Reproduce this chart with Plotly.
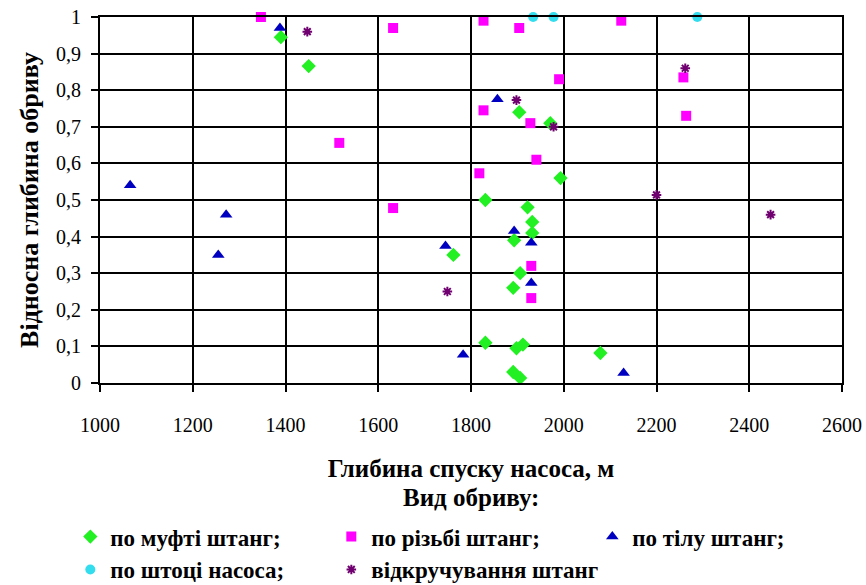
import plotly.graph_objects as go

# ---- data ----
coupling_x = [1390, 1450, 1904, 1971, 1993, 1831, 1922, 1932, 1932, 1893, 1762,
              1906, 1891, 1831, 1898, 1912, 1891, 1906, 2079]
coupling_y = [0.945, 0.866, 0.74, 0.71, 0.56, 0.50, 0.48, 0.44, 0.41, 0.39, 0.35,
              0.30, 0.26, 0.11, 0.095, 0.105, 0.03, 0.014, 0.082]

thread_x = [1347, 1632, 1516, 1632, 1827, 1904, 1990, 1827, 1928, 2124, 2258,
            2264, 1941, 1818, 1930, 1930]
thread_y = [1.0, 0.97, 0.656, 0.478, 0.99, 0.97, 0.83, 0.745, 0.71, 0.99, 0.835,
            0.73, 0.61, 0.573, 0.32, 0.232]

body_x = [1388, 1065, 1272, 1255, 1745, 1893, 1930, 1857, 1930, 1783, 2129]
body_y = [0.97, 0.54, 0.46, 0.35, 0.374, 0.415, 0.383, 0.775, 0.273, 0.077, 0.027]

rod_x = [1934, 1978, 2288]
rod_y = [1.0, 1.0, 1.0]

unscrew_x = [1447, 1898, 1978, 2262, 2200, 2446, 1749]
unscrew_y = [0.96, 0.773, 0.70, 0.86, 0.514, 0.46, 0.25]

series_names = ["по муфті штанг;", "по різьбі штанг;", "по тілу штанг;",
                "по штоці насоса;", "відкручування штанг"]

x_title = "Глибина спуску насоса, м"
y_title = "Відносна глибина обриву"
legend_title = "Вид обриву:"

FONT = "Liberation Serif, Times New Roman, DejaVu Serif, serif"

fig = go.Figure()
fig.add_trace(go.Scatter(x=coupling_x, y=coupling_y, mode="markers", name=series_names[0],
                         cliponaxis=False,
                         marker=dict(symbol="diamond", size=11, color="#22F022")))
fig.add_trace(go.Scatter(x=thread_x, y=thread_y, mode="markers", name=series_names[1],
                         cliponaxis=False,
                         marker=dict(symbol="square", size=10, color="#FF00FF")))
fig.add_trace(go.Scatter(x=body_x, y=body_y, mode="markers", name=series_names[2],
                         cliponaxis=False,
                         marker=dict(symbol="triangle-up", size=11, color="#0000C0")))
fig.add_trace(go.Scatter(x=rod_x, y=rod_y, mode="markers", name=series_names[3],
                         cliponaxis=False,
                         marker=dict(symbol="circle", size=10, color="#33DDEE")))
fig.add_trace(go.Scatter(x=unscrew_x, y=unscrew_y, mode="markers", name=series_names[4],
                         cliponaxis=False,
                         marker=dict(symbol="asterisk-open", size=8,
                                     line=dict(color="#700070", width=2), color="#700070")))

axis_common = dict(
    showgrid=True, gridcolor="black", gridwidth=2,
    showline=True, linecolor="black", linewidth=2, mirror=True,
    ticks="outside", ticklen=7, tickwidth=2, tickcolor="black",
    zeroline=False,
    tickfont=dict(family=FONT, size=20, color="black"),
)

fig.update_xaxes(range=[1000, 2600], dtick=200, tick0=1000,
                 ticklabelstandoff=16,
                 title=dict(text=x_title, standoff=24,
                            font=dict(family=FONT, size=25, color="black", weight="bold")),
                 **axis_common)
fig.update_yaxes(range=[0, 1], dtick=0.1, tick0=0,
                 ticklabelstandoff=6,
                 title=dict(text=y_title, standoff=10,
                            font=dict(family=FONT, size=26, color="black", weight="bold")),
                 **axis_common)

fig.update_layout(
    width=866, height=585,
    margin=dict(l=100, r=24, t=17, b=202, autoexpand=False),
    paper_bgcolor="white", plot_bgcolor="white",
    separators=", ",
    font=dict(family=FONT, color="black"),
    showlegend=True,
    legend=dict(
        orientation="h",
        x=-0.04, xanchor="left",
        y=-0.361, yanchor="top",
        entrywidth=216, entrywidthmode="pixels",
        font=dict(family=FONT, size=23, color="black", weight="bold"),
        bgcolor="rgba(0,0,0,0)",
    ),
    annotations=[dict(
        text=legend_title, xref="paper", yref="paper", x=0.5, y=-0.314,
        xanchor="center", yanchor="middle", showarrow=False,
        font=dict(family=FONT, size=25, color="black", weight="bold"),
    )],
)

fig.write_html("out.html")
